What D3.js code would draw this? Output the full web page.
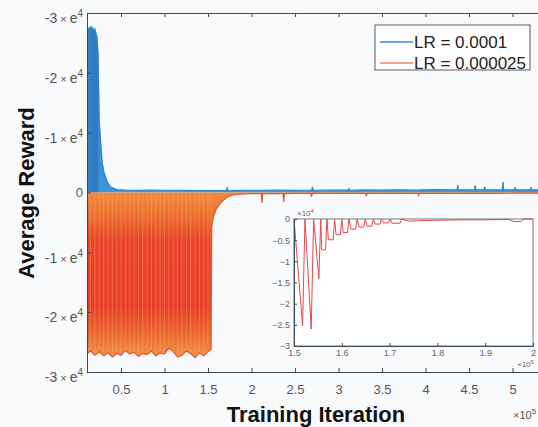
<!DOCTYPE html>
<html>
<head>
<meta charset="utf-8">
<script src="https://cdn.jsdelivr.net/npm/d3@7"></script>
<style>
	body { margin: 0; background: #f9fafc; }
	svg { display: block; font-family: "Liberation Sans", Arial, Helvetica, sans-serif; }
	.axis path, .axis line { stroke: #3b4b58; }
	.axis text { fill: #555; font-size: 13px; }
	.inset .axis text { font-size: 9px; fill: #666; }
</style>
</head>
<body>
<div class="chart-container"></div>
<script>
//---->DATA (x in units of 10^5 iterations)<-----//
const seriesNames = ['LR = 0.0001', 'LR = 0.000025'];

const blueX = [0.109, 0.118, 0.127, 0.136, 0.145, 0.155, 0.165, 0.176, 0.188, 0.200, 0.212, 0.224, 0.236, 0.244,
	0.250, 0.267, 0.285, 0.305, 0.343, 0.381, 0.454, 0.55, 0.70, 0.85, 1.00, 1.20, 1.40, 1.60, 1.712, 1.72, 1.728,
	1.90, 2.10, 2.30, 2.50, 2.692, 2.70, 2.708, 2.90, 3.112, 3.12, 3.128, 3.30, 3.50, 3.70, 3.90, 4.10, 4.362, 4.37,
	4.378, 4.562, 4.57, 4.578, 4.672, 4.68, 4.688, 4.882, 4.89, 4.898, 5.022, 5.03, 5.038, 5.202, 5.21, 5.218, 5.373];
const blueY = [26800, 27400, 27000, 27600, 27100, 27700, 27200, 27500, 26900, 27300, 26600, 26000, 23500, 17000,
	12100, 8300, 4900, 3300, 1750, 920, 480, 400, 350, 420, 380, 350, 330, 300, 320, 900, 330,
	350, 380, 400, 350, 380, 950, 380, 420, 400, 650, 380, 430, 400, 450, 420, 470, 430, 1250,
	450, 460, 1200, 460, 450, 1000, 440, 450, 1800, 450, 440, 900, 430, 440, 900, 440, 420];

const orangeX = [0.109, 0.15, 0.20, 0.25, 0.30, 0.35, 0.40, 0.45, 0.50, 0.55, 0.60, 0.65, 0.70, 0.75, 0.80,
	0.85, 0.90, 0.95, 1.00, 1.05, 1.10, 1.15, 1.20, 1.25, 1.30, 1.35, 1.40, 1.45, 1.50, 1.535, 1.543, 1.561,
	1.60, 1.657, 1.715, 1.787, 1.90, 2.00, 2.112, 2.12, 2.128, 2.30, 2.362, 2.37, 2.378, 2.50, 2.682, 2.69, 2.698,
	3.00, 3.312, 3.32, 3.328, 3.60, 3.912, 3.92, 3.928, 4.20, 4.50, 4.80, 5.10, 5.373];
const orangeY = [-27000, -26500, -27200, -26600, -27300, -26800, -27500, -26900, -27200, -26400, -27000, -26700,
	-27400, -26900, -27100, -26500, -27300, -26800, -27000, -26000, -26600, -27500, -27200, -26500, -26900,
	-27600, -26800, -27300, -26600, -26200, -5760, -4040, -2600, -1540, -800, -420, -250, -200, -200, -1750,
	-200, -180, -180, -1590, -180, -160, -160, -700, -150, -150, -140, -600, -150, -140, -140, -450, -140,
	-140, -130, -130, -120, -120];

const xTicks = [0.5, 1, 1.5, 2, 2.5, 3, 3.5, 4, 4.5, 5];
const yTicks = [-3e4, -2e4, -1e4, 0, 1e4, 2e4, 3e4];
const yTickLabels = ['-3', '-2', '-1', '0', '-1', '-2', '-3'];

// inset: zoom on the end of the LR = 0.000025 run (y in units of 10^4)
const insetX = [1.500, 1.518, 1.523, 1.536, 1.541, 1.552, 1.556, 1.558, 1.566, 1.569, 1.572, 1.582, 1.585,
	1.588, 1.597, 1.600, 1.603, 1.612, 1.615, 1.619, 1.629, 1.632, 1.636, 1.646, 1.649, 1.653, 1.663, 1.666,
	1.670, 1.680, 1.683, 1.687, 1.698, 1.701, 1.705, 1.722, 1.725, 1.74, 1.76, 1.80, 1.85, 1.90, 1.95, 1.96,
	1.975, 1.98, 2.0];
const insetY = [0, -2.52, 0, -2.60, 0, -1.41, 0, -0.73, -0.73, 0, -0.49, -0.49, 0,
	-0.37, -0.37, 0, -0.32, -0.32, 0, -0.24, -0.24, 0, -0.19, -0.19, 0, -0.17, -0.17, 0,
	-0.12, -0.12, 0, -0.09, -0.09, 0, -0.10, -0.10, 0, -0.05, -0.04, -0.03, -0.02, -0.02, -0.01, -0.06,
	-0.06, 0, 0];
const insetXTicks = [1.5, 1.6, 1.7, 1.8, 1.9, 2];
const insetYTicks = [0, -0.5, -1, -1.5, -2, -2.5, -3];

//---->LAYOUT<-----//
const outerW = 538,
	outerH = 427,
	margin = { left: 87, top: 13 },
	w = 458,
	h = 359;

const blue = zip(blueX, blueY),
	orange = zip(orangeX, orangeY),
	inset = zip(insetX, insetY);

function zip(xs, ys) {
	return xs.map((d, i) => ({ x: d, v: ys[i] }));
}

const svg = d3.select('.chart-container').append('svg')
	.attr('width', outerW)
	.attr('height', outerH);

const defs = svg.append('defs');

const x = d3.scaleLinear().domain([0.109, 5.373]).range([0, w]);
const y = d3.scaleLinear().domain([-3e4, 3e4]).range([h, 0]);

defs.append('clipPath').attr('id', 'plot-clip')
	.append('rect').attr('width', w).attr('height', h);

const blueGrad = defs.append('linearGradient').attr('id', 'blue-grad')
	.attr('gradientUnits', 'userSpaceOnUse')
	.attr('x1', x(0.109)).attr('x2', x(0.45)).attr('y1', 0).attr('y2', 0);
blueGrad.selectAll('stop')
	.data([[0, '#1f5cab'], [0.38, '#2263b2'], [0.45, '#3a92d4'], [1, '#3f9ad8']])
	.enter().append('stop')
	.attr('offset', d => d[0])
	.attr('stop-color', d => d[1]);

const orangeGrad = defs.append('linearGradient').attr('id', 'orange-grad')
	.attr('gradientUnits', 'userSpaceOnUse')
	.attr('x1', 0).attr('x2', 0).attr('y1', y(0)).attr('y2', y(-27500));
orangeGrad.selectAll('stop')
	.data([[0, '#f08a3c'], [0.12, '#ee7433'], [0.3, '#e8432a'], [0.7, '#e83f2a'], [0.86, '#ec6a30'], [1, '#f2924a']])
	.enter().append('stop')
	.attr('offset', d => d[0])
	.attr('stop-color', d => d[1]);

const g = svg.append('g')
	.attr('transform', `translate(${margin.left}, ${margin.top})`);

// series
const plot = g.append('g').attr('clip-path', 'url(#plot-clip)');

const area = d3.area()
	.x(d => x(d.x))
	.y0(y(0))
	.y1(d => y(d.v));

const line = d3.line()
	.x(d => x(d.x))
	.y(d => y(d.v));

plot.append('path')
	.datum(blue)
	.attr('d', area)
	.attr('fill', 'url(#blue-grad)');

// light streaks inside the dense oscillation blocks
plot.selectAll('.blue-streak')
	.data(blue.filter(d => d.v > 5000))
	.enter().append('line').attr('class', 'blue-streak')
	.attr('x1', d => x(d.x)).attr('x2', d => x(d.x))
	.attr('y1', y(0)).attr('y2', d => y(d.v))
	.attr('stroke', '#4aa3e0')
	.attr('stroke-opacity', 0.6)
	.attr('stroke-width', 0.8);

plot.append('path')
	.datum(blue)
	.attr('d', line)
	.attr('fill', 'none')
	.attr('stroke', '#2f86cc')
	.attr('stroke-width', 1.2);

plot.append('path')
	.datum(orange)
	.attr('d', area)
	.attr('fill', 'url(#orange-grad)');

plot.selectAll('.orange-streak')
	.data(orange.filter(d => d.v < -20000))
	.enter().append('line').attr('class', 'orange-streak')
	.attr('x1', d => x(d.x)).attr('x2', d => x(d.x))
	.attr('y1', y(0)).attr('y2', d => y(d.v))
	.attr('stroke', '#f5a468')
	.attr('stroke-opacity', 0.55)
	.attr('stroke-width', 0.8);

plot.append('path')
	.datum(orange)
	.attr('d', line)
	.attr('fill', 'none')
	.attr('stroke', '#e3582a')
	.attr('stroke-width', 1.2);

// axes
g.append('g')
	.attr('class', 'x axis')
	.attr('transform', `translate(0, ${h})`)
	.call(d3.axisBottom(x)
		.tickValues(xTicks)
		.tickFormat(d3.format('~g'))
		.tickSize(-4)
		.tickSizeOuter(0)
		.tickPadding(13)
	);

g.append('g')
	.attr('class', 'x axis top')
	.call(d3.axisTop(x)
		.tickValues(xTicks)
		.tickFormat('')
		.tickSize(-4)
		.tickSizeOuter(0)
	);

const yAxis = g.append('g')
	.attr('class', 'y axis')
	.call(d3.axisLeft(y)
		.tickValues(yTicks)
		.tickSize(-4)
		.tickSizeOuter(0)
		.tickPadding(4)
	);

yAxis.selectAll('.tick text').each(function(d, i) {
	const t = d3.select(this).text(null);
	const lab = yTickLabels[i];
	if (lab === '0') {
		t.text(lab);
		return;
	}
	t.attr('dy', '0.7em').style('font-size', '14px');
	t.append('tspan').text(lab);
	t.append('tspan').attr('dx', 3).style('font-size', '11px').text('×');
	t.append('tspan').attr('dx', 3).text('e');
	t.append('tspan').attr('dy', '-0.6em').style('font-size', '10px').text('4');
});

svg.append('text')
	.attr('x', 513)
	.attr('y', 419)
	.attr('fill', '#555')
	.style('font-size', '11px')
	.text('×10')
	.append('tspan').attr('dy', -5).style('font-size', '8px').text('5');

// axis titles
svg.append('text')
	.attr('transform', 'translate(34, 193) rotate(-90)')
	.attr('text-anchor', 'middle')
	.attr('fill', '#111')
	.style('font-size', '22px')
	.style('font-weight', 'bold')
	.text('Average Reward');

svg.append('text')
	.attr('x', 316)
	.attr('y', 422)
	.attr('text-anchor', 'middle')
	.attr('fill', '#111')
	.style('font-size', '22px')
	.style('font-weight', 'bold')
	.text('Training Iteration');

// legend
const legend = svg.append('g').attr('class', 'legend');
legend.append('rect')
	.attr('x', 375).attr('y', 25)
	.attr('width', 155).attr('height', 45)
	.attr('fill', '#fff')
	.attr('stroke', '#333')
	.attr('stroke-width', 0.8);

const legendColors = ['#3a8ccb', '#e8845a'];
const entries = legend.selectAll('.entry')
	.data(seriesNames)
	.enter().append('g')
	.attr('class', 'entry')
	.attr('transform', (d, i) => `translate(380, ${42 + i * 21})`);

entries.append('line')
	.attr('x1', 0).attr('x2', 33)
	.attr('stroke', (d, i) => legendColors[i])
	.attr('stroke-width', 1.3);

entries.append('text')
	.attr('x', 34)
	.attr('y', 6)
	.attr('fill', '#222')
	.style('font-size', '17px')
	.text(d => d);

// inset
const ix = d3.scaleLinear().domain([1.5, 2]).range([294, 533]);
const iy = d3.scaleLinear().domain([-3, 0]).range([346, 219]);

const ig = svg.append('g').attr('class', 'inset');

ig.append('rect')
	.attr('x', ix(1.5)).attr('y', iy(0))
	.attr('width', ix(2) - ix(1.5)).attr('height', iy(-3) - iy(0))
	.attr('fill', '#fff')
	.attr('stroke', '#4a5d6b')
	.attr('stroke-width', 0.8);

ig.append('path')
	.datum(inset)
	.attr('d', d3.line().x(d => ix(d.x)).y(d => iy(d.v)))
	.attr('fill', 'none')
	.attr('stroke', '#e5474a')
	.attr('stroke-width', 1);

ig.append('g')
	.attr('class', 'axis')
	.attr('transform', `translate(0, ${iy(-3)})`)
	.call(d3.axisBottom(ix)
		.tickValues(insetXTicks)
		.tickFormat(d3.format('~g'))
		.tickSize(-3)
		.tickSizeOuter(0)
		.tickPadding(4)
	);

ig.append('g')
	.attr('class', 'axis')
	.attr('transform', `translate(${ix(1.5)}, 0)`)
	.call(d3.axisLeft(iy)
		.tickValues(insetYTicks)
		.tickFormat(d3.format('~g'))
		.tickSize(-3)
		.tickSizeOuter(0)
		.tickPadding(4)
	);

ig.append('text')
	.attr('x', 297).attr('y', 216)
	.attr('fill', '#666')
	.style('font-size', '8px')
	.text('×10')
	.append('tspan').attr('dy', -3).style('font-size', '6px').text('4');

ig.append('text')
	.attr('x', 517).attr('y', 367)
	.attr('fill', '#666')
	.style('font-size', '8px')
	.text('×10')
	.append('tspan').attr('dy', -3).style('font-size', '6px').text('5');
</script>
</body>
</html>
